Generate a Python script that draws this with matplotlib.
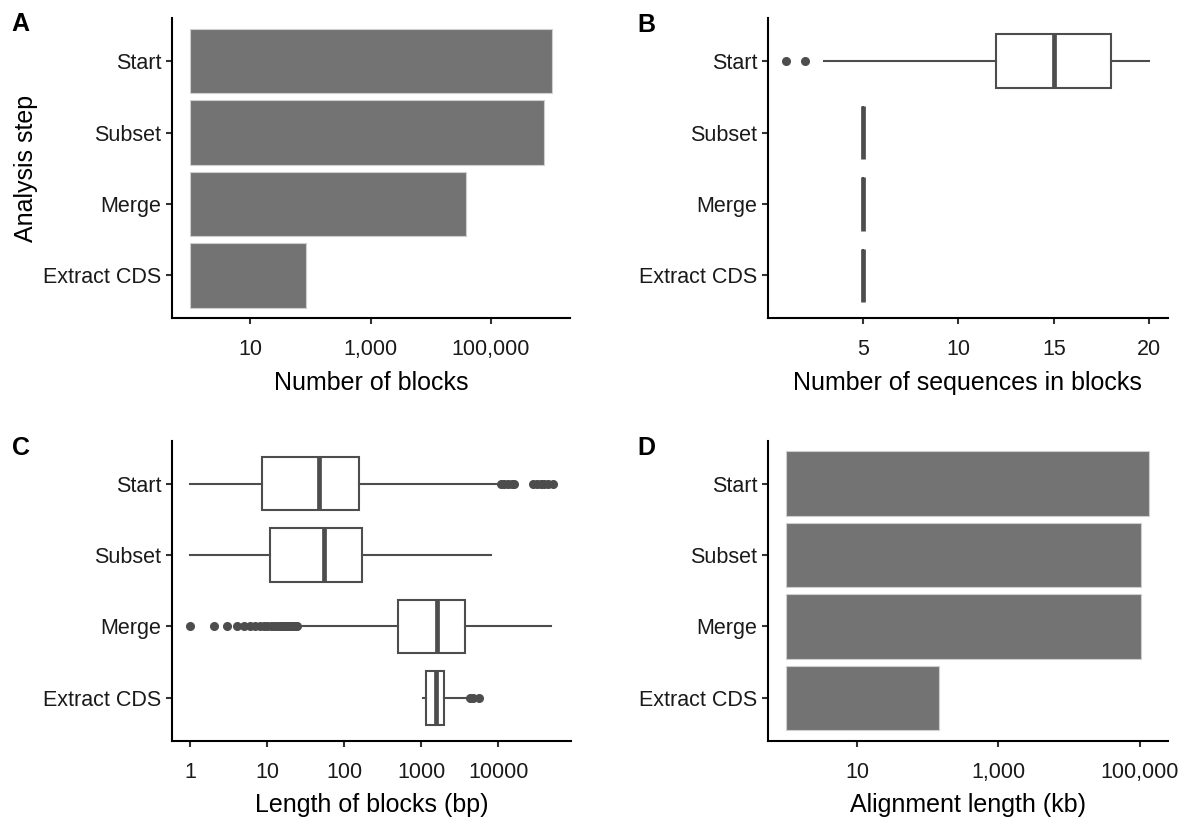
import numpy as np
import matplotlib
matplotlib.use('Agg')
import matplotlib.pyplot as plt
from matplotlib.ticker import FixedLocator, FixedFormatter, NullLocator

plt.rcParams['font.family'] = ['Liberation Sans', 'DejaVu Sans']

steps = ["Start", "Subset", "Merge", "Extract CDS"]

# Panel A: number of blocks per analysis step
n_blocks = [1040000, 776000, 38600, 83]

# Panel B: number of sequences in blocks (box statistics)
seq_q1 = [12, 5, 5, 5]
seq_med = [15, 5, 5, 5]
seq_q3 = [18, 5, 5, 5]
seq_whislo = [3, 5, 5, 5]
seq_whishi = [20, 5, 5, 5]
seq_fliers = [[1, 2], [], [], []]

# Panel C: length of blocks in bp (box statistics, log scale)
len_q1 = [8.65, 10.8, 498, 1164]
len_med = [46.5, 55, 1590, 1549]
len_q3 = [157, 170, 3700, 1952]
len_whislo = [1, 1, 26, 1042]
len_whishi = [10180, 8170, 48000, 3945]
len_fliers = [
    [11000, 12000, 13500, 15000, 16000, 28500, 32000, 36000, 40000, 45000, 51000],
    [],
    [1, 2, 3, 4, 5, 6, 7, 8, 9, 10, 11, 12, 13, 14, 15, 16, 17, 18, 19, 20, 21, 22, 23, 24],
    [4295, 4700, 5630],
]

# Panel D: alignment length (kb)
aln_kb = [136000, 103000, 102000, 145]

BAR = '#737373'
BOXC = '#4d4d4d'
TICK_FS = 15.5
TITLE_FS = 18

W, H = 1179, 819
fig = plt.figure(figsize=(W / 100, H / 100), dpi=100)

def px_axes(x0, x1, y0, y1):
    return fig.add_axes([x0 / W, 1 - y1 / H, (x1 - x0) / W, (y1 - y0) / H])

axA = px_axes(172.3, 570, 18.3, 318.3)
axB = px_axes(768, 1167.5, 18.3, 318.3)
axC = px_axes(172.3, 570.7, 440.7, 740.7)
axD = px_axes(768, 1167.5, 440.7, 740.7)

pos = np.arange(len(steps), 0, -1)

def style(ax):
    for s in ['top', 'right']:
        ax.spines[s].set_visible(False)
    for s in ['left', 'bottom']:
        ax.spines[s].set_linewidth(1.5)
        ax.spines[s].set_color('black')
    ax.tick_params(axis='both', which='major', length=4.2, width=1.5, color='#333333',
                   labelsize=TICK_FS, labelcolor='#1a1a1a')
    ax.tick_params(axis='x', pad=11)
    ax.tick_params(axis='y', pad=3.6)
    ax.tick_params(axis='both', which='minor', length=0)
    ax.set_ylim(0.4, len(steps) + 0.6)
    ax.set_yticks(pos)
    ax.set_yticklabels(steps)

def log_lim(ax, vmin, vmax):
    lo, hi = np.log10(vmin), np.log10(vmax)
    pad = 0.05 * (hi - lo)
    ax.set_xscale('log')
    ax.set_xlim(10 ** (lo - pad), 10 ** (hi + pad))

def set_ticks(ax, vals, labels):
    ax.xaxis.set_major_locator(FixedLocator(vals))
    ax.xaxis.set_major_formatter(FixedFormatter(labels))
    ax.xaxis.set_minor_locator(NullLocator())

def xtitle(ax, text):
    ax.set_xlabel(text, fontsize=TITLE_FS, color='black')
    ax.xaxis.set_label_coords(0.5, -0.215)
    ax.xaxis.label.set_verticalalignment('center')

# ---- Panel A
vals = np.array(n_blocks, dtype=float)
axA.barh(pos, vals - 1, left=1, height=0.9, color=BAR, edgecolor='#cfcfcf', linewidth=0.8)
log_lim(axA, 1, vals.max())
set_ticks(axA, [10, 1000, 100000], ['10', '1,000', '100,000'])
style(axA)
xtitle(axA, 'Number of blocks')
axA.set_ylabel('Analysis step', fontsize=TITLE_FS, color='black')
axA.yaxis.set_label_coords(-0.368, 0.5)
axA.yaxis.label.set_horizontalalignment('center')
axA.yaxis.label.set_verticalalignment('center')

# ---- box helper
def boxes(ax, q1, med, q3, lo, hi, fl):
    stats = []
    for i in range(len(steps)):
        stats.append(dict(q1=q1[i], med=med[i], q3=q3[i], whislo=lo[i], whishi=hi[i],
                          fliers=np.array(fl[i], dtype=float)))
    ax.bxp(stats, positions=pos, orientation='horizontal', widths=0.75, patch_artist=True,
           showcaps=False,
           boxprops=dict(facecolor='white', edgecolor=BOXC, linewidth=1.5),
           whiskerprops=dict(color=BOXC, linewidth=1.5),
           medianprops=dict(color=BOXC, linewidth=3.4, solid_capstyle='butt'),
           flierprops=dict(marker='o', markerfacecolor=BOXC, markeredgecolor=BOXC,
                           markersize=5.5, linestyle='none'))

# ---- Panel B
boxes(axB, seq_q1, seq_med, seq_q3, seq_whislo, seq_whishi, seq_fliers)
allB = [v for f in seq_fliers for v in f] + seq_whislo + seq_whishi
bmin, bmax = min(allB), max(allB)
padB = 0.05 * (bmax - bmin)
axB.set_xlim(bmin - padB, bmax + padB)
set_ticks(axB, [5, 10, 15, 20], ['5', '10', '15', '20'])
style(axB)
xtitle(axB, 'Number of sequences in blocks')

# ---- Panel C
boxes(axC, len_q1, len_med, len_q3, len_whislo, len_whishi, len_fliers)
allC = [v for f in len_fliers for v in f] + len_whislo + len_whishi
log_lim(axC, min(allC), max(allC))
set_ticks(axC, [1, 10, 100, 1000, 10000], ['1', '10', '100', '1000', '10000'])
style(axC)
xtitle(axC, 'Length of blocks (bp)')

# ---- Panel D
valsD = np.array(aln_kb, dtype=float)
axD.barh(pos, valsD - 1, left=1, height=0.9, color=BAR, edgecolor='#cfcfcf', linewidth=0.8)
log_lim(axD, 1, valsD.max())
set_ticks(axD, [10, 1000, 100000], ['10', '1,000', '100,000'])
style(axD)
xtitle(axD, 'Alignment length (kb)')

# panel letters
for lab, x, y in [('A', 20, 24), ('B', 646.4, 25), ('C', 20.7, 448), ('D', 646.4, 448)]:
    fig.text(x / W, 1 - y / H, lab, fontsize=18, fontweight='bold', ha='center', va='center')

fig.savefig('out.png', dpi=100)
